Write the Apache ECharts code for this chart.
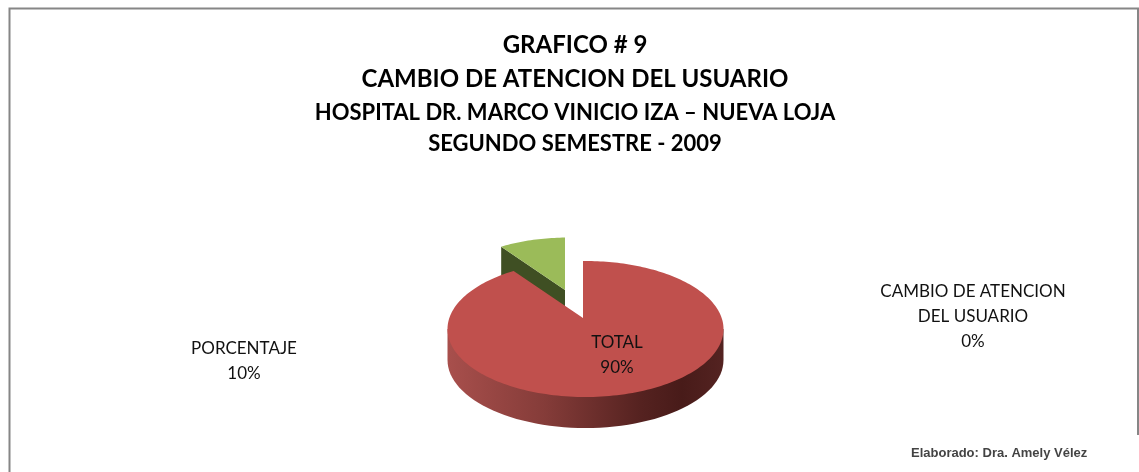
<!DOCTYPE html>
<html>
<head>
<meta charset="utf-8">
<style>
  html, body { margin: 0; padding: 0; background: #fff; }
  #main { width: 1139px; height: 472px; }
</style>
</head>
<body>
<div id="main"></div>
<script src="https://cdn.jsdelivr.net/npm/echarts@6/dist/echarts.min.js"></script>
<script>
// datos
var categories = ['TOTAL', 'PORCENTAJE', 'CAMBIO DE ATENCION\nDEL USUARIO'];
var values = [90, 10, 0];
var titleLines = ['GRAFICO # 9', 'CAMBIO DE ATENCION DEL USUARIO', 'HOSPITAL DR. MARCO VINICIO IZA – NUEVA LOJA', 'SEGUNDO SEMESTRE - 2009'];
var credit = 'Elaborado: Dra. Amely Vélez';

var FONT = 'Lato';
var total = values.reduce(function (a, b) { return a + b; }, 0);

// elipse de la cara superior; el vertice va un poco arriba del centro (perspectiva)
var pie = { cx: 585.5, cy: 329, rx: 138, ry: 68, apexX: -2.5, apexY: -11, depth: 31 };
// como se dibuja cada categoria: la porcion verde va separada y algo mas chica
var sliceStyle = [
  { top: '#c0504d', dx: 0, dy: 0, scale: 1, labelX: 617, labelY: 355 },
  { top: '#9bbb59', side: '#3f4f23', dx: -18, dy: -28, scale: 0.92, labelX: 244, labelY: 361 },
  { top: '#c0504d', dx: 0, dy: 0, scale: 1, labelX: 973, labelY: 317 }
];

// punto del borde para un angulo (desde arriba, horario), relativo al vertice
function rimPoint(a) {
  var dx = pie.rx * Math.sin(a), dy = -pie.ry * Math.cos(a);
  var A = dx * dx / (pie.rx * pie.rx) + dy * dy / (pie.ry * pie.ry);
  var B = 2 * (pie.apexX * dx / (pie.rx * pie.rx) + pie.apexY * dy / (pie.ry * pie.ry));
  var C = pie.apexX * pie.apexX / (pie.rx * pie.rx) + pie.apexY * pie.apexY / (pie.ry * pie.ry) - 1;
  var t = (-B + Math.sqrt(B * B - 4 * A * C)) / (2 * A);
  return [dx * t, dy * t];
}

function renderSlice(params, api) {
  var i = params.dataIndex;
  var st = sliceStyle[i];
  var before = 0;
  for (var k = 0; k < i; k++) before += values[k];
  var a0 = before / total * Math.PI * 2;
  var a1 = (before + api.value(0)) / total * Math.PI * 2;
  var ox = pie.cx + pie.apexX + st.dx, oy = pie.cy + pie.apexY + st.dy;
  var children = [];

  if (api.value(0) > 0) {
    var face = [[ox, oy]];
    var n = Math.max(2, Math.round((a1 - a0) * 40));
    for (var j = 0; j <= n; j++) {
      var p = rimPoint(a0 + (a1 - a0) * j / n);
      face.push([ox + p[0] * st.scale, oy + p[1] * st.scale]);
    }
    if (st.side) {
      // cara del corte, queda por detras de la porcion roja
      var d = pie.depth * st.scale;
      children.push({
        type: 'polygon', z2: 1,
        shape: { points: [[ox, oy], face[1], [face[1][0], face[1][1] + d], [ox, oy + d]] },
        style: { fill: st.side }
      });
    } else {
      // pared frontal con degradado
      var wall = [];
      for (var w = 0; w <= 60; w++) {
        var t1 = Math.PI * w / 60;
        wall.push([pie.cx + pie.rx * Math.cos(t1), pie.cy + pie.ry * Math.sin(t1) + pie.depth]);
      }
      wall.push([pie.cx - pie.rx, pie.cy], [pie.cx, pie.cy], [pie.cx + pie.rx, pie.cy]);
      children.push({
        type: 'polygon', z2: 2,
        shape: { points: wall },
        style: {
          fill: new echarts.graphic.LinearGradient(0, 0, 1, 0, [
            { offset: 0, color: '#a84f4c' },
            { offset: 0.35, color: '#853c39' },
            { offset: 0.7, color: '#552220' },
            { offset: 0.85, color: '#481b19' },
            { offset: 1, color: '#542321' }
          ])
        }
      });
    }
    children.push({
      type: 'polygon', z2: st.side ? 2 : 3,
      shape: { points: face },
      style: { fill: st.top }
    });
  }

  children.push({
    type: 'text', z2: 5, x: st.labelX, y: st.labelY,
    style: {
      text: categories[i] + '\n' + api.value(0) + '%',
      fill: '#111',
      font: '17px ' + FONT,
      lineHeight: 25,
      align: 'center',
      verticalAlign: 'middle'
    }
  });
  return { type: 'group', children: children };
}

var titleY = [33, 67, 102, 133];
var titleSize = [24, 24, 22, 22];

var chart = echarts.init(document.getElementById('main'));
chart.setOption({
  animation: false,
  backgroundColor: '#fff',
  title: titleLines.map(function (t, i) {
    return {
      text: t,
      left: 575,
      textAlign: 'center',
      top: titleY[i],
      padding: 0,
      textStyle: { fontFamily: FONT, fontSize: titleSize[i], fontWeight: 'bold', color: '#000' }
    };
  }),
  xAxis: { show: false },
  yAxis: { show: false },
  series: [{
    type: 'custom',
    coordinateSystem: 'none',
    renderItem: renderSlice,
    data: values.map(function (v, i) { return { name: categories[i], value: [v] }; })
  }],
  graphic: [
    // marco gris abierto de la hoja
    { type: 'polyline', z: 10, shape: { points: [[9.5, 472], [9.5, 8.5], [1138, 8.5], [1138, 435]] }, style: { stroke: '#868686', lineWidth: 2, fill: null } },
    { type: 'text', z: 10, x: 911, y: 447, style: { text: credit, font: 'bold 13px "Liberation Sans"', fill: '#222', opacity: 0.85, shadowColor: '#222', shadowBlur: 2 } }
  ]
});
</script>
</body>
</html>
